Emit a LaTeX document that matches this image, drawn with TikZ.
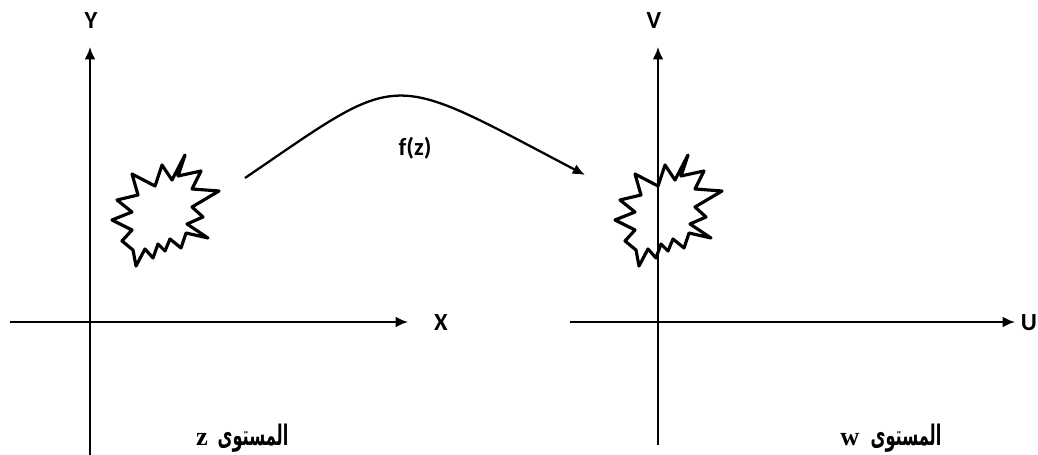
\documentclass[tikz,border=0pt]{standalone}
\usepackage{fontspec}
\setmainfont{Liberation Serif}
\newfontfamily\axisfont{Carlito}
\newfontfamily\arabicfont[Script=Arabic]{DejaVu Sans}
\TeXXeTstate=1
\usetikzlibrary{arrows.meta}
\newcommand{\planeword}{\scalebox{0.66}[1.15]{\arabicfont\bfseries\fontsize{14}{17}\selectfont\beginR المستوى\endR}}
\begin{document}
\begin{tikzpicture}[x=0.02cm,y=-0.02cm,
  axis/.style={line width=1.1pt,-{Latex[length=7pt,width=6pt]}},
  lbl/.style={font=\axisfont\bfseries\fontsize{14}{16}\selectfont,inner sep=0pt},
  plane/.style={font=\bfseries\fontsize{15}{17}\selectfont,inner sep=0pt,anchor=base},
  burst/.style={line width=1.8pt,line join=round}]
\useasboundingbox (0,0) rectangle (1038,455);
% left plane
\coordinate (ly0) at (90,455);
\coordinate (ly1) at (90,47);
\coordinate (lx0) at (10,322);
\coordinate (lx1) at (408,322);
\draw[axis] (ly0) -- (ly1);
\draw[axis] (lx0) -- (lx1);
\node[lbl] (Y) at (91,21) {Y};
\node[lbl] (X) at (441,323) {X};
% right plane
\coordinate (ry0) at (658,445);
\coordinate (ry1) at (658,47);
\coordinate (rx0) at (570,322);
\coordinate (rx1) at (1015,322);
\draw[axis] (ry0) -- (ry1);
\draw[axis] (rx0) -- (rx1);
\node[lbl] (V) at (654,21) {V};
\node[lbl] (U) at (1029,323) {U};
% bursts
\foreach \dx/\nm in {0/a,503/b}{
\begin{scope}[xshift=\dx*0.02cm]
\draw[burst] (185,155) -- (178,176) -- (201,171) -- (192,189) -- (219,191) -- (192,207)
 -- (203,217) -- (187,224) -- (208,238) -- (186,233) -- (181,248) -- (170,239)
 -- (165,251) -- (158,244) -- (153,258) -- (145,249) -- (136,266) -- (133,250)
 -- (122,241) -- (132,230) -- (112,220) -- (132,212) -- (117,200) -- (138,195)
 -- (132,174) -- (155,186) -- (162,165) -- (172,180) -- cycle;
\end{scope}}
% mapping arrow
\coordinate (c0) at (245,178);
\coordinate (c1) at (585,175);
\draw[line width=1.3pt,-{Latex[length=7pt,width=6pt]}] (c0) .. controls (405,69) and (385,70) .. (c1);
\node[lbl] (f) at (415,148) {f(z)};
% plane labels
\node[plane] (zl) at (202,446) {z};
\node[plane] (za) at (253,446) {\planeword};
\node[plane] (wl) at (850,446) {w};
\node[plane] (wa) at (906,446) {\planeword};
\end{tikzpicture}
\end{document}
